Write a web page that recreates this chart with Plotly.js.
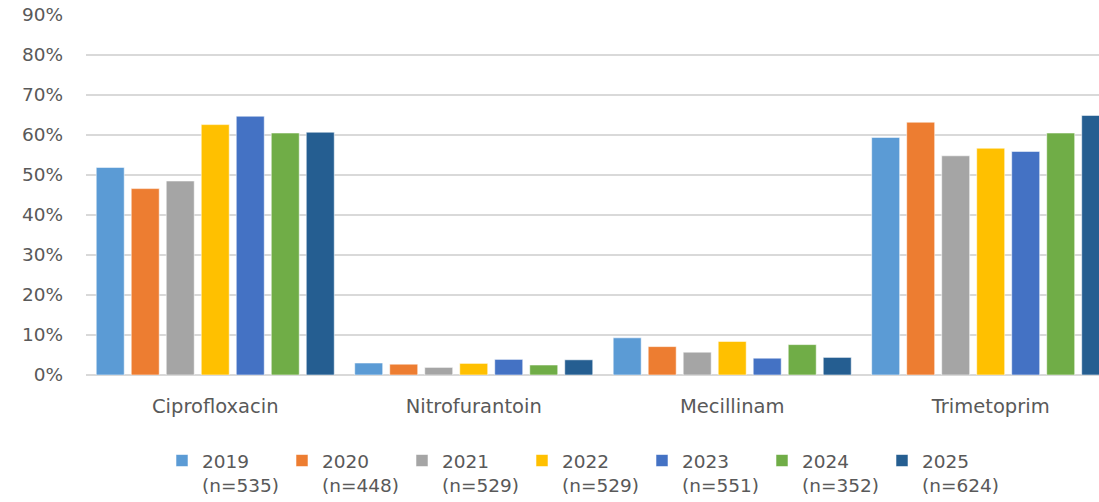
<!DOCTYPE html>
<html>
<head>
<meta charset="utf-8">
<script src="https://cdn.plot.ly/plotly-3.0.1.min.js"></script>
<style>
  html, body { margin: 0; padding: 0; background: #ffffff; }
  #chart { width: 1099px; height: 502px; }
</style>
</head>
<body>
<div id="chart"></div>
<script>
  // Share of resistant isolates per antibiotic, by year
  const categories = ['Ciprofloxacin', 'Nitrofurantoin', 'Mecillinam', 'Trimetoprim'];
  const years = ['2019', '2020', '2021', '2022', '2023', '2024', '2025'];
  const sampleSizes = ['n=535', 'n=448', 'n=529', 'n=529', 'n=551', 'n=352', 'n=624'];
  const colors = ['#5B9BD5', '#ED7D31', '#A5A5A5', '#FFC000', '#4472C4', '#70AD47', '#255E91'];

  const v2019 = [0.519, 0.030, 0.093, 0.594];
  const v2020 = [0.466, 0.027, 0.071, 0.632];
  const v2021 = [0.485, 0.019, 0.057, 0.548];
  const v2022 = [0.626, 0.029, 0.084, 0.567];
  const v2023 = [0.647, 0.039, 0.042, 0.559];
  const v2024 = [0.605, 0.025, 0.076, 0.605];
  const v2025 = [0.607, 0.038, 0.044, 0.649];

  const seriesValues = [v2019, v2020, v2021, v2022, v2023, v2024, v2025];

  const FONT = 'DejaVu Sans, sans-serif';
  const TEXT_COLOR = '#595959';

  const traces = years.map((yr, i) => ({
    type: 'bar',
    x: categories,
    y: seriesValues[i],
    name: yr + '<br>(' + sampleSizes[i] + ')',
    marker: {
      color: colors[i],
      line: { color: 'rgba(255,255,255,0.55)', width: 1 }
    },
    hovertemplate: yr + ' %{x}: %{y:.1%}<extra></extra>'
  }));

  const layout = {
    width: 1099,
    height: 502,
    paper_bgcolor: '#ffffff',
    plot_bgcolor: '#ffffff',
    font: { family: FONT, color: TEXT_COLOR, size: 18 },
    margin: { t: 15, b: 127, l: 86, r: 0, pad: 0 },
    barmode: 'group',
    bargap: 0.052,
    bargroupgap: 0.2,
    showlegend: true,
    xaxis: {
      type: 'category',
      range: [-0.5, 3.419],
      showgrid: false,
      zeroline: false,
      showline: false,
      ticks: '',
      ticklabelstandoff: 17,
      tickfont: { family: FONT, color: TEXT_COLOR, size: 19.5 },
      fixedrange: true
    },
    yaxis: {
      range: [0, 0.9],
      dtick: 0.1,
      tickformat: '.0%',
      showgrid: true,
      gridcolor: '#d9d9d9',
      gridwidth: 1.3,
      zeroline: true,
      zerolinecolor: '#d9d9d9',
      zerolinewidth: 1.5,
      showline: false,
      ticks: '',
      ticklabelstandoff: 22,
      tickfont: { family: FONT, color: TEXT_COLOR, size: 18.5 },
      fixedrange: true
    },
    legend: {
      orientation: 'h',
      xref: 'container',
      yref: 'container',
      x: 162 / 1099,
      xanchor: 'left',
      y: 1 - 442 / 502,
      yanchor: 'top',
      valign: 'top',
      entrywidth: 75,
      entrywidthmode: 'pixels',
      traceorder: 'normal',
      font: { family: FONT, color: TEXT_COLOR, size: 18.5 },
      bgcolor: 'rgba(0,0,0,0)'
    }
  };

  Plotly.newPlot('chart', traces, layout, { displayModeBar: false, staticPlot: true });
</script>
</body>
</html>
